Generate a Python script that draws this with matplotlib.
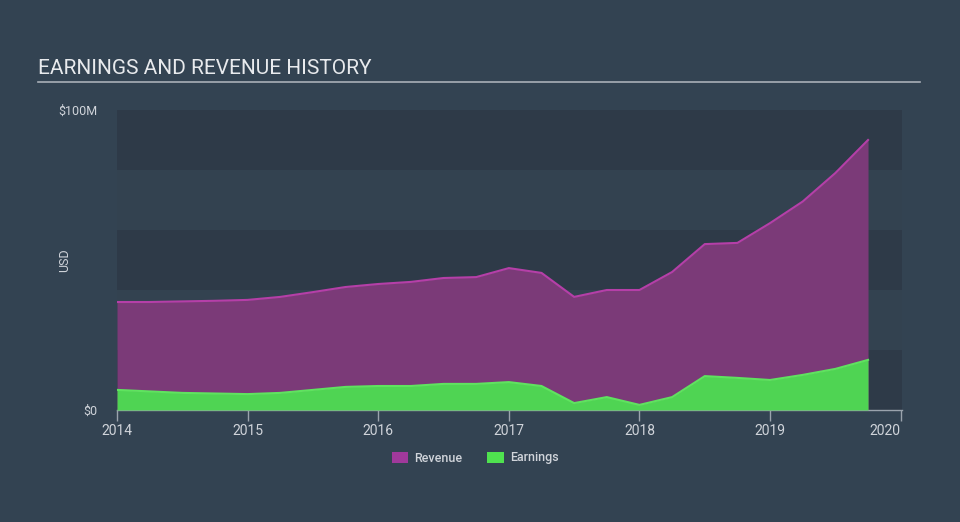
import matplotlib
matplotlib.use("Agg")
from matplotlib import pyplot as plt
from matplotlib.patches import Patch

plt.rcParams['font.family'] = ['Roboto', 'DejaVu Sans']

# quarterly points, values in $M
years = [2014.0, 2014.25, 2014.5, 2014.75, 2015.0, 2015.25, 2015.5, 2015.75,
         2016.0, 2016.25, 2016.5, 2016.75, 2017.0, 2017.25, 2017.5, 2017.75,
         2018.0, 2018.25, 2018.5, 2018.75, 2019.0, 2019.25, 2019.5, 2019.75]
revenue = [36.0, 36.0, 36.2, 36.4, 36.7, 37.7, 39.3, 41.0,
           42.0, 42.7, 44.0, 44.3, 47.3, 45.7, 37.7, 40.0,
           40.0, 46.0, 55.3, 55.7, 62.3, 69.5, 79.0, 90.0]
earnings = [6.7, 6.2, 5.7, 5.5, 5.3, 5.7, 6.7, 7.7,
            8.0, 8.0, 8.7, 8.7, 9.3, 8.0, 2.3, 4.3,
            1.7, 4.3, 11.3, 10.7, 10.0, 11.7, 13.7, 16.7]

xticks = [2014, 2015, 2016, 2017, 2018, 2019, 2020]
yticks = [0, 100]
ylabels = ["$0", "$100M"]

bg = '#334352'
band_dark = '#2e3a48'
band_light = '#334250'
rev_fill = '#7b3a78'
rev_line = '#b53fa8'
earn_fill = '#4fd453'
earn_line = '#5fe35f'
text_col = '#d0d4da'

fig = plt.figure(figsize=(9.6, 5.22), dpi=100, facecolor=bg)
ax = fig.add_axes([117/960, 1-410/522, (902-117)/960, 300/522])
ax.set_facecolor(bg)

for i in range(5):
    ax.axhspan(i*20, (i+1)*20, color=band_dark if i % 2 == 0 else band_light,
               lw=0, zorder=0)

ax.fill_between(years, revenue, 0, color=rev_fill, lw=0, zorder=2)
ax.plot(years, revenue, color=rev_line, lw=1.5, zorder=3)
ax.fill_between(years, earnings, 0, color=earn_fill, lw=0, zorder=4)
ax.plot(years, earnings, color=earn_line, lw=1.5, zorder=5)

ax.set_xlim(2014, 2020.01)
ax.set_ylim(0, 100)

for s in ['top', 'right', 'left']:
    ax.spines[s].set_visible(False)
ax.spines['bottom'].set_color('#9aa3ad')
ax.spines['bottom'].set_linewidth(1)

ax.set_xticks(xticks)
ax.set_xticklabels([str(x) for x in xticks])
ax.tick_params(axis='x', colors='#9aa3ad', length=8, width=1,
               labelcolor=text_col, labelsize=10, pad=2)
ax.get_xticklabels()[-1].set_ha('right')

ax.set_yticks(yticks)
ax.set_yticklabels(ylabels)
ax.tick_params(axis='y', length=0, labelcolor=text_col, labelsize=9, pad=14)

fig.text(65/960, 1-260/522, "USD", rotation=90, color=text_col,
         fontsize=9, ha='center', va='center')

fig.text(38/960, 1-68/522, "EARNINGS AND REVENUE HISTORY", color='#e8eaed',
         fontsize=15, ha='left', va='center')
fig.add_artist(plt.Line2D([38/960, 920/960], [1-82/522, 1-82/522],
                          color='#a9b0b8', lw=1.2))

handles = [Patch(facecolor='#a0399b', label='Revenue'),
           Patch(facecolor='#4fe24f', label='Earnings')]
leg = fig.legend(handles=handles, loc='center', bbox_to_anchor=(475/960, 1-458/522),
                 ncol=2, frameon=False, fontsize=9, handlelength=1.3,
                 handleheight=1.0, columnspacing=2.0, handletextpad=0.5)
for t in leg.get_texts():
    t.set_color(text_col)
    t.set_fontweight('medium')

fig.savefig("out.png", dpi=100, facecolor=bg)
